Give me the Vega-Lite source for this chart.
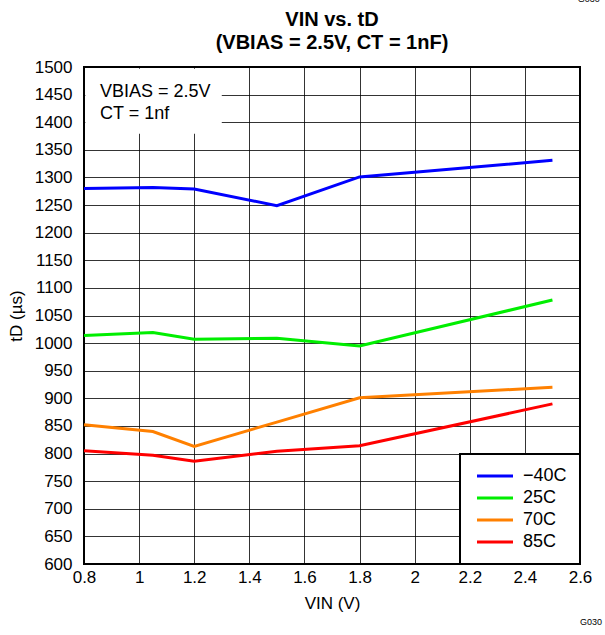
{
  "$schema": "https://vega.github.io/schema/vega-lite/v6.json",
  "width": 496,
  "height": 497,
  "autosize": "none",
  "padding": {"left": 84, "top": 67, "right": 25, "bottom": 71},
  "background": "white",
  "config": {
    "font": "Liberation Sans",
    "view": {"stroke": "black", "strokeWidth": 2},
    "axis": {
      "domain": false,
      "ticks": false,
      "grid": true,
      "gridColor": "black",
      "gridWidth": 0.8,
      "gridOpacity": 1,
      "labelColor": "black",
      "labelFont": "Liberation Sans",
      "labelFontSize": 17,
      "labelOverlap": false,
      "titleColor": "black",
      "titleFont": "Liberation Sans",
      "titleFontSize": 17,
      "titleFontWeight": "normal"
    }
  },
  "title": {
    "text": ["VIN vs. tD", "(VBIAS = 2.5V, CT = 1nF)"],
    "font": "Liberation Sans",
    "fontSize": 20,
    "fontWeight": "bold",
    "color": "black",
    "lineHeight": 23,
    "offset": -58,
    "anchor": "middle",
    "frame": "group"
  },
  "layer": [
    {
      "data": {
        "values": [
          {"vin": 0.8, "td": 1280, "temp": "−40C"},
          {"vin": 1.05, "td": 1282, "temp": "−40C"},
          {"vin": 1.2, "td": 1279, "temp": "−40C"},
          {"vin": 1.5, "td": 1249, "temp": "−40C"},
          {"vin": 1.8, "td": 1301, "temp": "−40C"},
          {"vin": 2.5, "td": 1331, "temp": "−40C"},
          {"vin": 0.8, "td": 1014, "temp": "25C"},
          {"vin": 1.05, "td": 1019, "temp": "25C"},
          {"vin": 1.2, "td": 1007, "temp": "25C"},
          {"vin": 1.5, "td": 1009, "temp": "25C"},
          {"vin": 1.8, "td": 995, "temp": "25C"},
          {"vin": 2.5, "td": 1078, "temp": "25C"},
          {"vin": 0.8, "td": 852, "temp": "70C"},
          {"vin": 1.05, "td": 840, "temp": "70C"},
          {"vin": 1.2, "td": 813, "temp": "70C"},
          {"vin": 1.5, "td": 857, "temp": "70C"},
          {"vin": 1.8, "td": 901, "temp": "70C"},
          {"vin": 2.5, "td": 920, "temp": "70C"},
          {"vin": 0.8, "td": 805, "temp": "85C"},
          {"vin": 1.05, "td": 797, "temp": "85C"},
          {"vin": 1.2, "td": 786, "temp": "85C"},
          {"vin": 1.5, "td": 804, "temp": "85C"},
          {"vin": 1.8, "td": 814, "temp": "85C"},
          {"vin": 2.5, "td": 890, "temp": "85C"}
        ]
      },
      "mark": {"type": "line", "strokeWidth": 3},
      "encoding": {
        "x": {
          "field": "vin",
          "type": "quantitative",
          "title": "VIN (V)",
          "scale": {"domain": [0.8, 2.6], "nice": false, "zero": false},
          "axis": {"values": [0.8, 1, 1.2, 1.4, 1.6, 1.8, 2, 2.2, 2.4, 2.6], "format": "~g", "labelPadding": 5, "titlePadding": 10, "labelFlush": false}
        },
        "y": {
          "field": "td",
          "type": "quantitative",
          "title": "tD (µs)",
          "scale": {"domain": [600, 1500], "nice": false, "zero": false},
          "axis": {"values": [600, 650, 700, 750, 800, 850, 900, 950, 1000, 1050, 1100, 1150, 1200, 1250, 1300, 1350, 1400, 1450, 1500], "format": "d", "labelPadding": 12, "titlePadding": 9}
        },
        "color": {
          "field": "temp",
          "type": "nominal",
          "scale": {"domain": ["−40C", "25C", "70C", "85C"], "range": ["#0000FF", "#00EE00", "#FF8000", "#FF0000"]},
          "legend": {
            "title": null,
            "orient": "bottom-right",
            "offset": 0,
            "fillColor": "white",
            "strokeColor": "black",
            "padding": 13,
            "symbolType": "M-3,0H3",
            "symbolSize": 144,
            "symbolStrokeWidth": 3,
            "symbolOffset": 13,
            "labelFontSize": 18,
            "labelColor": "black",
            "labelOffset": 19,
            "rowPadding": 4,
            "encode": {"legend": {"update": {"strokeWidth": {"value": 2}}}}
          }
        }
      }
    },
    {
      "data": {"values": [{}]},
      "mark": {"type": "rect", "fill": "white"},
      "encoding": {
        "x": {"datum": 0.805, "type": "quantitative", "title": "VIN (V)", "scale": {"domain": [0.8, 2.6], "nice": false, "zero": false},
          "axis": {"values": [0.8, 1, 1.2, 1.4, 1.6, 1.8, 2, 2.2, 2.4, 2.6], "format": "~g", "labelPadding": 5, "titlePadding": 10, "labelFlush": false}},
        "x2": {"datum": 1.3},
        "y": {"datum": 1497, "type": "quantitative", "title": "tD (µs)", "scale": {"domain": [600, 1500], "nice": false, "zero": false},
          "axis": {"values": [600, 650, 700, 750, 800, 850, 900, 950, 1000, 1050, 1100, 1150, 1200, 1250, 1300, 1350, 1400, 1450, 1500], "format": "d", "labelPadding": 12, "titlePadding": 9}},
        "y2": {"datum": 1379}
      }
    },
    {
      "data": {"values": [{}]},
      "mark": {"type": "text", "text": ["VBIAS = 2.5V", "CT = 1nf"], "align": "left", "baseline": "alphabetic", "fontSize": 18, "lineHeight": 22, "color": "black"},
      "encoding": {
        "x": {"datum": 0.858, "type": "quantitative", "title": "VIN (V)", "scale": {"domain": [0.8, 2.6], "nice": false, "zero": false},
          "axis": {"values": [0.8, 1, 1.2, 1.4, 1.6, 1.8, 2, 2.2, 2.4, 2.6], "format": "~g", "labelPadding": 5, "titlePadding": 10, "labelFlush": false}},
        "y": {"datum": 1446, "type": "quantitative", "title": "tD (µs)", "scale": {"domain": [600, 1500], "nice": false, "zero": false},
          "axis": {"values": [600, 650, 700, 750, 800, 850, 900, 950, 1000, 1050, 1100, 1150, 1200, 1250, 1300, 1350, 1400, 1450, 1500], "format": "d", "labelPadding": 12, "titlePadding": 9}}
      }
    },
    {
      "data": {"values": [{}]},
      "mark": {"type": "text", "text": "G030", "align": "left", "baseline": "alphabetic", "fontSize": 9, "color": "black"},
      "encoding": {
        "x": {"datum": 2.6, "type": "quantitative", "title": "VIN (V)", "scale": {"domain": [0.8, 2.6], "nice": false, "zero": false},
          "axis": {"values": [0.8, 1, 1.2, 1.4, 1.6, 1.8, 2, 2.2, 2.4, 2.6], "format": "~g", "labelPadding": 5, "titlePadding": 10, "labelFlush": false}},
        "y": {"datum": 490, "type": "quantitative", "title": "tD (µs)", "scale": {"domain": [600, 1500], "nice": false, "zero": false},
          "axis": {"values": [600, 650, 700, 750, 800, 850, 900, 950, 1000, 1050, 1100, 1150, 1200, 1250, 1300, 1350, 1400, 1450, 1500], "format": "d", "labelPadding": 12, "titlePadding": 9}}
      }
    },
    {
      "data": {"values": [{}]},
      "mark": {"type": "text", "text": "G030", "align": "left", "baseline": "alphabetic", "fontSize": 9, "color": "black"},
      "encoding": {
        "x": {"datum": 2.592, "type": "quantitative", "title": "VIN (V)", "scale": {"domain": [0.8, 2.6], "nice": false, "zero": false},
          "axis": {"values": [0.8, 1, 1.2, 1.4, 1.6, 1.8, 2, 2.2, 2.4, 2.6], "format": "~g", "labelPadding": 5, "titlePadding": 10, "labelFlush": false}},
        "y": {"datum": 1617, "type": "quantitative", "title": "tD (µs)", "scale": {"domain": [600, 1500], "nice": false, "zero": false},
          "axis": {"values": [600, 650, 700, 750, 800, 850, 900, 950, 1000, 1050, 1100, 1150, 1200, 1250, 1300, 1350, 1400, 1450, 1500], "format": "d", "labelPadding": 12, "titlePadding": 9}}
      }
    }
  ]
}
